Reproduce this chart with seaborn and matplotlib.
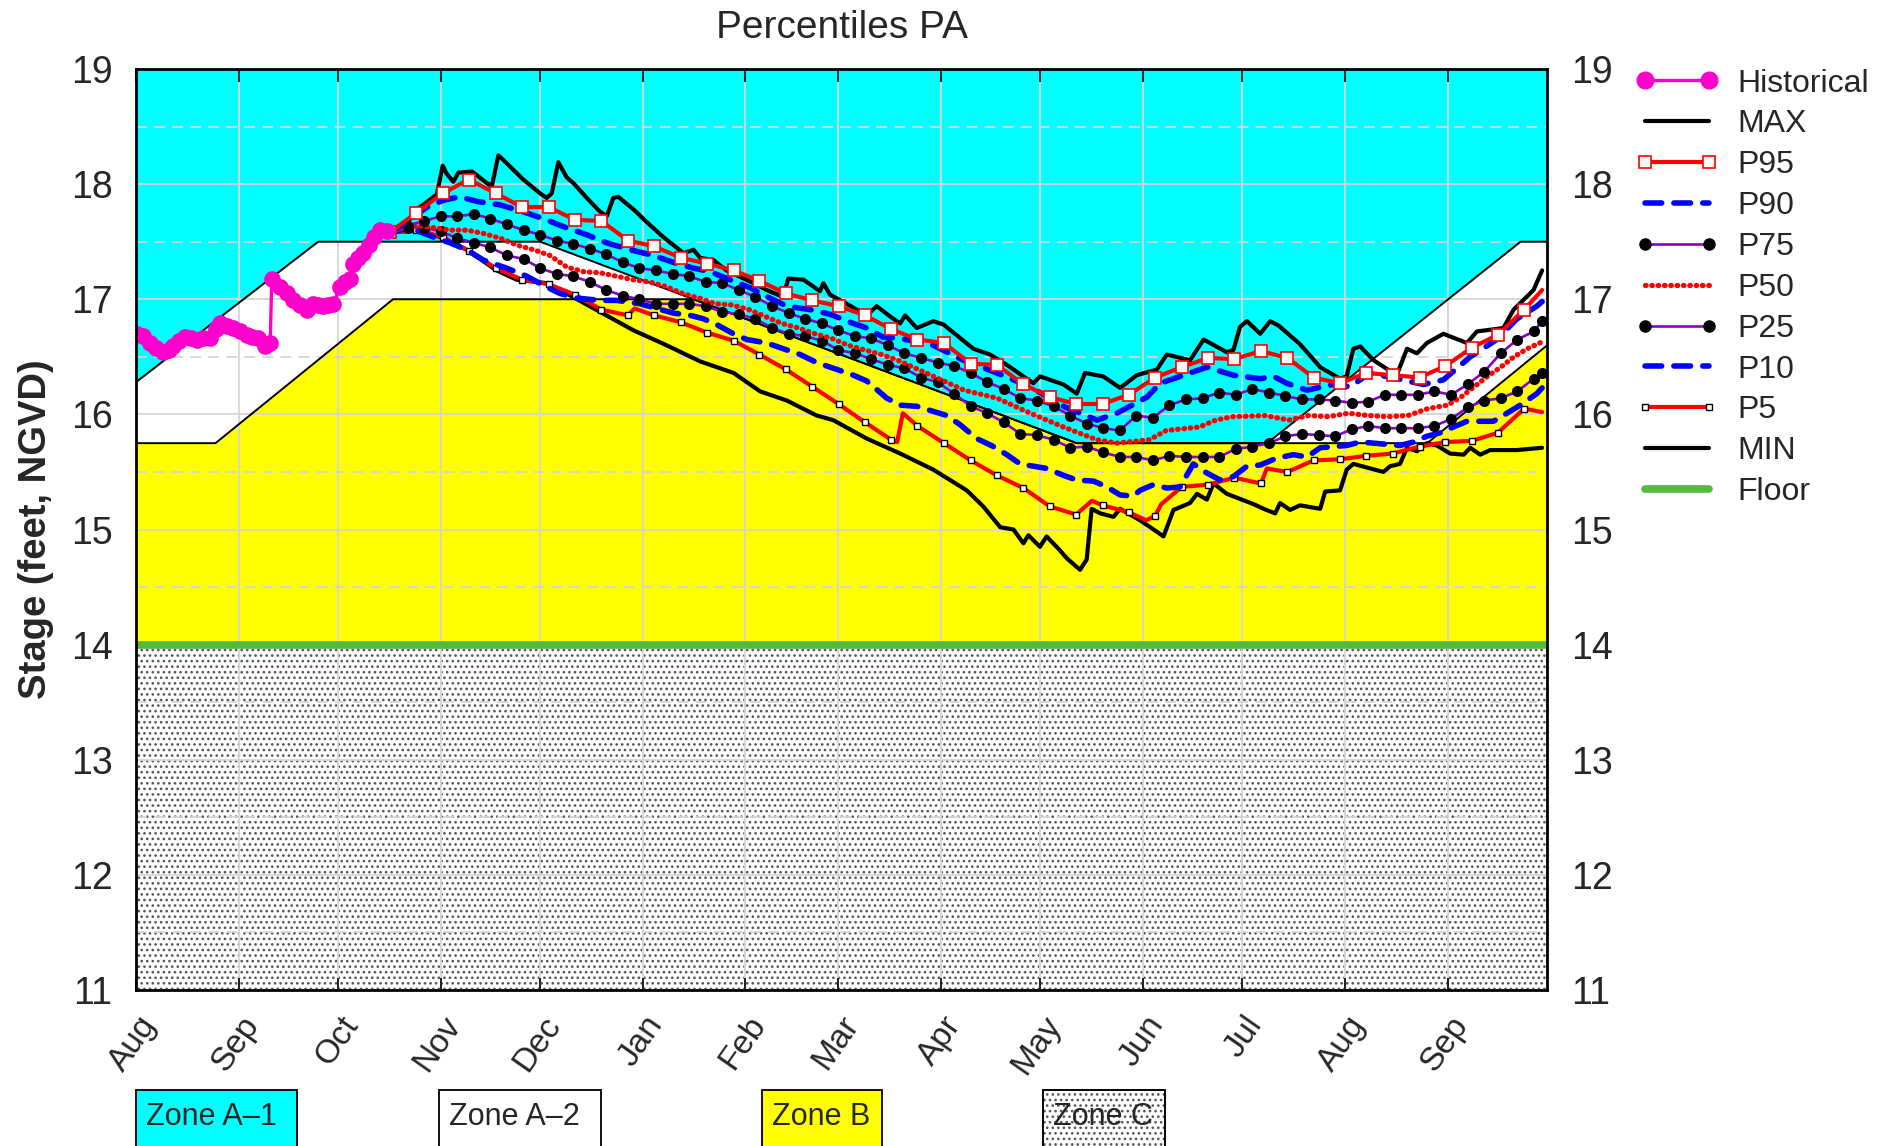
import numpy as np
import pandas as pd
import matplotlib
matplotlib.use("Agg")
import matplotlib.pyplot as plt
import seaborn as sns
from matplotlib.ticker import MultipleLocator, FixedLocator
from matplotlib.patches import Rectangle
from matplotlib.lines import Line2D
import matplotlib.transforms as mtransforms

sns.set_style("white")
plt.rcParams['font.family'] = ['Liberation Sans', 'DejaVu Sans']
plt.rcParams['hatch.linewidth'] = 1.1

# ---- x axis: days counted from 1 Aug, 14 months shown ----
month_labels = ['Aug', 'Sep', 'Oct', 'Nov', 'Dec', 'Jan', 'Feb', 'Mar',
                'Apr', 'May', 'Jun', 'Jul', 'Aug', 'Sep']
month_starts = pd.date_range("2022-08-01", periods=14, freq="MS")
month_days = (month_starts - month_starts[0]).days.values
x_end = 426

# ---- regulation schedule (zone boundaries) ----
upper_days = [0, 55, 122, 284, 341.5, 418, 426]
upper_vals = [16.28, 17.5, 17.5, 15.75, 15.75, 17.5, 17.5]
lower_days = [0, 24, 77.6, 168.3, 284, 389.8, 426]
lower_vals = [15.75, 15.75, 17.0, 17.0, 15.75, 15.75, 16.6]
floor_days = [0, 426]
floor_vals = [14.0, 14.0]

# ---- historical stage ----
hist_days = [0.2, 2, 4.2, 6, 8.2, 10, 11.3, 13, 14.8, 16.5,
             18.3, 20.3, 22.3, 24, 25.4, 27.4, 29.4, 31.4, 33.4, 35,
             36.9, 39, 40.5, 41, 43.5, 45.5, 47.5, 49.5, 51.5, 53.5,
             55, 56.6, 58, 59.6, 61.6, 63, 64.6, 65.6, 67, 68.6,
             70.2, 71.7, 73.7, 75.7]
hist_vals = [16.70, 16.68, 16.62, 16.58, 16.54, 16.56, 16.59, 16.64, 16.67, 16.66,
             16.65, 16.66, 16.66, 16.74, 16.79, 16.77, 16.75, 16.72, 16.69, 16.67,
             16.66, 16.59, 16.62, 17.18, 17.11, 17.05, 16.99, 16.95, 16.91, 16.96,
             16.95, 16.94, 16.95, 16.96, 17.11, 17.15, 17.18, 17.31, 17.36, 17.40,
             17.47, 17.54, 17.60, 17.59]

# ---- MAX / MIN ----
max_days = [76.7, 81.7, 85.7, 90.8, 92.6, 93.8, 95.8, 97.3, 101.4, 105.9,
            107.4, 109.4, 110.9, 116.9, 122.0, 124.0, 125.5, 127.5, 130.0, 132.0,
            136.1, 140.1, 142.1, 144.1, 145.6, 150.2, 154.2, 159.2, 165.3, 168.3,
            170.3, 174.3, 178.3, 186.4, 190.4, 195.4, 196.9, 201.5, 204.5, 206.5,
            207.5, 209.5, 214.6, 220.6, 223.6, 227.7, 230.7, 232.2, 235.7, 240.7,
            243.8, 252.8, 257.8, 262.9, 270.9, 272.9, 280.0, 284.0, 286.5, 292.0,
            297.1, 302.1, 308.2, 311.2, 318.2, 322.3, 329.3, 331.3, 333.3, 335.4,
            339.4, 342.4, 345.0, 351.4, 357.5, 363.5, 365.5, 367.5, 369.6, 373.6,
            380.6, 383.7, 386.7, 389.7, 394.7, 401.8, 404.8, 412.8, 415.9, 421.9,
            424.5]
max_vals = [17.58, 17.66, 17.80, 17.91, 18.16, 18.09, 18.02, 18.10, 18.11, 18.01,
            17.98, 18.25, 18.21, 18.04, 17.92, 17.88, 17.92, 18.19, 18.06, 18.01,
            17.88, 17.76, 17.72, 17.88, 17.89, 17.78, 17.67, 17.54, 17.40, 17.43,
            17.36, 17.34, 17.25, 17.14, 17.08, 17.02, 17.18, 17.17, 17.11, 17.07,
            17.14, 17.04, 16.96, 16.86, 16.94, 16.85, 16.79, 16.86, 16.75, 16.81,
            16.78, 16.57, 16.52, 16.43, 16.27, 16.33, 16.26, 16.18, 16.36, 16.33,
            16.23, 16.34, 16.39, 16.52, 16.47, 16.65, 16.54, 16.56, 16.76, 16.81,
            16.70, 16.81, 16.77, 16.61, 16.41, 16.31, 16.33, 16.57, 16.59, 16.47,
            16.34, 16.57, 16.53, 16.62, 16.70, 16.62, 16.72, 16.75, 16.91, 17.08,
            17.25]

min_days = [76.7, 85.7, 91.8, 99.8, 108.9, 114.9, 124.0, 130.0, 140.1, 150.2,
            160.2, 170.3, 180.4, 188.4, 196.5, 205.5, 210.5, 220.6, 230.7, 240.7,
            250.8, 255.8, 260.9, 264.9, 267.9, 269.4, 272.9, 274.9, 278.9, 281.0,
            285.0, 287.0, 288.5, 291.1, 295.1, 297.1, 303.1, 306.2, 310.2, 313.2,
            318.2, 320.3, 323.3, 325.3, 329.3, 337.4, 340.4, 343.9, 345.4, 348.4,
            351.4, 357.5, 359.0, 363.5, 365.5, 367.5, 376.6, 378.6, 381.6, 383.7,
            386.7, 389.7, 392.7, 396.7, 400.8, 402.8, 405.8, 408.8, 416.9, 424.5]
min_vals = [17.58, 17.60, 17.54, 17.43, 17.25, 17.17, 17.14, 17.05, 16.89, 16.73,
            16.60, 16.46, 16.36, 16.20, 16.12, 15.99, 15.95, 15.79, 15.66, 15.52,
            15.34, 15.20, 15.02, 15.00, 14.88, 14.95, 14.85, 14.94, 14.82, 14.75,
            14.65, 14.74, 15.18, 15.14, 15.11, 15.18, 15.08, 15.02, 14.94, 15.17,
            15.23, 15.31, 15.26, 15.40, 15.31, 15.22, 15.18, 15.14, 15.23, 15.17,
            15.21, 15.18, 15.33, 15.34, 15.52, 15.57, 15.50, 15.55, 15.57, 15.71,
            15.68, 15.75, 15.73, 15.66, 15.65, 15.71, 15.65, 15.69, 15.69, 15.71]

# ---- P95 / P5 (square markers every ~8 days) ----
sq_days = [76.7, 84.5, 92.6, 100.5, 108.6, 116.6, 124.6, 132.5, 140.5, 148.5,
           156.4, 164.5, 172.4, 180.4, 188.2, 196.2, 204.2, 212.1, 220.1, 228.0,
           235.9, 243.9, 252.0, 259.9, 267.9, 275.9, 283.8, 291.8, 299.7, 307.7,
           315.7, 323.7, 331.6, 339.6, 347.6, 355.5, 363.5, 371.4, 379.4, 387.5,
           395.3, 403.3, 411.1, 419.1]
p95_vals = [17.58, 17.75, 17.92, 18.04, 17.92, 17.80, 17.80, 17.69, 17.68, 17.51,
            17.46, 17.36, 17.31, 17.25, 17.16, 17.05, 16.99, 16.94, 16.86, 16.74,
            16.65, 16.62, 16.44, 16.43, 16.26, 16.15, 16.09, 16.09, 16.17, 16.32,
            16.41, 16.49, 16.48, 16.55, 16.49, 16.32, 16.27, 16.36, 16.34, 16.32,
            16.42, 16.58, 16.69, 16.91]
p95_end = (424.5, 17.08)

p5_days = [76.7, 84.5, 92.6, 100.5, 108.6, 116.6, 124.6, 132.5, 140.5, 148.5,
           150.5, 156.4, 164.5, 172.4, 180.4, 188.2, 196.2, 204.2, 212.1, 220.1,
           228.0, 229.8, 231.5, 235.9, 243.9, 252.0, 259.9, 267.9, 275.9, 283.8,
           288.6, 291.8, 299.7, 305.0, 307.7, 309.5, 315.7, 323.7, 331.6, 339.6,
           341.4, 347.6, 355.5, 363.5, 371.4, 379.4, 387.5, 395.3, 403.3, 411.1,
           419.1, 424.5]
p5_vals = [17.58, 17.60, 17.54, 17.42, 17.27, 17.17, 17.13, 17.04, 16.91, 16.86,
           16.92, 16.86, 16.80, 16.71, 16.64, 16.52, 16.39, 16.24, 16.09, 15.93,
           15.78, 15.76, 16.01, 15.90, 15.75, 15.60, 15.47, 15.36, 15.20, 15.13,
           15.25, 15.21, 15.15, 15.08, 15.12, 15.22, 15.37, 15.39, 15.45, 15.40,
           15.53, 15.50, 15.60, 15.61, 15.64, 15.66, 15.72, 15.76, 15.77, 15.84,
           16.05, 16.02]

# ---- P90 / P10 ----
p90_days = [76.7, 82.7, 87.8, 92.8, 97.8, 102.9, 109.9, 116.9, 123.0, 130.0,
            136.1, 142.1, 149.2, 156.2, 163.3, 168.3, 173.3, 179.3, 185.4, 191.4,
            196.5, 203.5, 209.5, 215.6, 220.6, 225.6, 230.7, 240.7, 249.8, 259.9,
            269.9, 280.0, 290.1, 296.1, 305.2, 309.2, 319.2, 323.3, 331.3, 339.4,
            343.4, 347.4, 353.5, 361.5, 366.5, 372.6, 380.6, 388.7, 394.7, 402.8,
            410.8, 416.9, 422.9, 424.5]
p90_vals = [17.58, 17.69, 17.80, 17.86, 17.89, 17.85, 17.82, 17.76, 17.70, 17.62,
            17.56, 17.49, 17.43, 17.38, 17.31, 17.27, 17.24, 17.17, 17.10, 17.01,
            16.94, 16.91, 16.87, 16.80, 16.75, 16.67, 16.66, 16.60, 16.47, 16.36,
            16.24, 16.07, 15.95, 16.01, 16.15, 16.27, 16.37, 16.41, 16.34, 16.31,
            16.33, 16.27, 16.21, 16.26, 16.24, 16.36, 16.31, 16.26, 16.30, 16.50,
            16.65, 16.83, 16.94, 16.98]

p10_days = [76.7, 82.7, 89.8, 94.8, 99.8, 104.9, 111.9, 118.0, 123.0, 128.0,
            133.1, 140.1, 145.1, 152.2, 157.2, 162.2, 167.3, 171.3, 175.3, 180.4,
            184.4, 190.4, 195.4, 200.5, 205.5, 211.6, 216.6, 220.6, 226.7, 230.7,
            235.7, 244.8, 248.8, 253.8, 258.9, 262.9, 266.9, 270.9, 275.0, 280.0,
            284.0, 289.1, 293.1, 297.1, 301.1, 303.1, 307.2, 311.2, 315.2, 319.2,
            323.3, 327.3, 331.3, 335.4, 339.4, 344.4, 349.4, 353.5, 357.5, 365.5,
            369.6, 373.6, 381.6, 385.7, 389.7, 393.7, 397.7, 401.8, 409.8, 413.9,
            417.9, 422.9, 424.5]
p10_vals = [17.58, 17.62, 17.54, 17.49, 17.43, 17.34, 17.27, 17.20, 17.12, 17.05,
            17.01, 16.99, 16.99, 16.96, 16.92, 16.88, 16.86, 16.83, 16.78, 16.70,
            16.65, 16.62, 16.57, 16.52, 16.45, 16.39, 16.34, 16.29, 16.14, 16.08,
            16.07, 15.99, 15.91, 15.79, 15.72, 15.65, 15.57, 15.55, 15.53, 15.47,
            15.43, 15.42, 15.37, 15.30, 15.29, 15.34, 15.39, 15.36, 15.37, 15.57,
            15.49, 15.43, 15.46, 15.55, 15.56, 15.62, 15.65, 15.63, 15.71, 15.73,
            15.76, 15.75, 15.73, 15.76, 15.81, 15.84, 15.89, 15.94, 15.94, 16.01,
            16.08, 16.18, 16.23]

# ---- P50 ----
p50_days = [76.7, 80, 85, 90, 95, 100, 105, 110, 115, 120,
            125, 130, 135, 140, 145, 150, 155, 160, 165, 170,
            175, 180, 185, 190, 195, 200, 205, 210, 215, 220,
            225, 230, 240, 250, 260, 270, 280, 290, 296, 306,
            311, 321, 326, 331, 341, 348, 354, 360, 366, 372,
            378, 384, 390, 396, 400, 404, 408, 412, 416, 420,
            424.5]
p50_vals = [17.58, 17.62, 17.64, 17.62, 17.60, 17.60, 17.57, 17.53, 17.47, 17.43,
            17.38, 17.28, 17.24, 17.23, 17.20, 17.17, 17.15, 17.11, 17.05, 17.01,
            16.96, 16.95, 16.91, 16.85, 16.79, 16.75, 16.70, 16.66, 16.60, 16.56,
            16.52, 16.47, 16.34, 16.21, 16.14, 16.01, 15.89, 15.78, 15.75, 15.78,
            15.86, 15.89, 15.95, 15.98, 15.99, 15.95, 15.99, 15.98, 16.01, 15.99,
            15.98, 15.99, 16.05, 16.08, 16.15, 16.24, 16.33, 16.41, 16.50, 16.57,
            16.63]

# ---- P75 / P25 (dot markers every 5 days) ----
dot_days = list(range(77, 423, 5)) + [424.5]
p75_vals = [17.58, 17.64, 17.68, 17.72, 17.72, 17.74, 17.70, 17.65, 17.60, 17.56,
            17.51, 17.48, 17.44, 17.39, 17.32, 17.27, 17.25, 17.22, 17.20, 17.15,
            17.14, 17.08, 17.02, 16.94, 16.88, 16.83, 16.79, 16.73, 16.68, 16.66,
            16.60, 16.53, 16.49, 16.45, 16.42, 16.36, 16.28, 16.22, 16.14, 16.12,
            16.07, 15.99, 15.92, 15.88, 15.86, 15.99, 15.97, 16.08, 16.13, 16.14,
            16.19, 16.17, 16.22, 16.19, 16.16, 16.13, 16.13, 16.12, 16.10, 16.11,
            16.17, 16.17, 16.17, 16.20, 16.17, 16.26, 16.37, 16.53, 16.65, 16.72,
            16.81]
p25_vals = [17.58, 17.62, 17.62, 17.59, 17.53, 17.49, 17.45, 17.38, 17.35, 17.27,
            17.22, 17.20, 17.15, 17.08, 17.03, 17.00, 16.96, 16.96, 16.96, 16.94,
            16.89, 16.87, 16.83, 16.75, 16.70, 16.68, 16.64, 16.56, 16.53, 16.48,
            16.43, 16.40, 16.32, 16.28, 16.18, 16.07, 16.01, 15.93, 15.83, 15.82,
            15.78, 15.71, 15.72, 15.67, 15.63, 15.63, 15.60, 15.64, 15.63, 15.63,
            15.63, 15.70, 15.72, 15.75, 15.81, 15.83, 15.82, 15.81, 15.87, 15.90,
            15.88, 15.88, 15.88, 15.90, 15.96, 16.06, 16.12, 16.14, 16.20, 16.31,
            16.36]

# colours
CYAN, YELLOW = '#00ffff', '#ffff00'
RED, BLUE, PURPLE = '#ff0000', '#0000ff', '#8800cc'
MAGENTA, GREEN = '#ff00cc', '#55b93a'
GRID = '#d6d6d6'
STIPPLE = '#555555'

# line styles shared by plot and legend
DASH = (0, (3.0, 2.2))
DOTS = (0, (0.1, 1.1))

fig = plt.figure(figsize=(18.89, 11.46), dpi=100)
ax = fig.add_axes([0.0720, 0.1361, 0.7470, 0.8037])

# zones
ax.fill_between(upper_days, upper_vals, 19, color=CYAN, lw=0, zorder=0.5)
ax.fill_between(lower_days, 14, lower_vals, color=YELLOW, lw=0, zorder=0.5)
ax.fill_between(floor_days, 11, 14, facecolor='white', edgecolor=STIPPLE,
                hatch='...', lw=0, zorder=0.5)
ax.plot(upper_days, upper_vals, color='black', lw=1.4, zorder=2.6)
ax.plot(lower_days, lower_vals, color='black', lw=1.4, zorder=2.6)

# series
sns.lineplot(x=floor_days, y=floor_vals, ax=ax, color=GREEN, lw=5.5, zorder=3,
             estimator=None)
sns.lineplot(x=max_days, y=max_vals, ax=ax, color='black', lw=3.0, zorder=4,
             estimator=None)
sns.lineplot(x=min_days, y=min_vals, ax=ax, color='black', lw=3.0, zorder=4,
             estimator=None)
p5_marks = [i for i, d in enumerate(p5_days) if d in sq_days]
sns.lineplot(x=p5_days, y=p5_vals, ax=ax, color=RED, lw=3.0, zorder=5,
             estimator=None, marker='s', markersize=4.5, markerfacecolor='white',
             markeredgecolor='black', markeredgewidth=1.0, markevery=p5_marks)
sns.lineplot(x=p10_days, y=p10_vals, ax=ax, color=BLUE, lw=4.0, zorder=5,
             estimator=None, linestyle=DASH, dash_capstyle='round')
sns.lineplot(x=dot_days, y=p25_vals, ax=ax, color=PURPLE, lw=1.9, zorder=5,
             estimator=None, marker='o', markersize=8, markerfacecolor='black',
             markeredgecolor='black', markeredgewidth=0)
sns.lineplot(x=p50_days, y=p50_vals, ax=ax, color=RED, lw=3.8, zorder=5,
             estimator=None, linestyle=DOTS, dash_capstyle='round')
sns.lineplot(x=dot_days, y=p75_vals, ax=ax, color=PURPLE, lw=1.9, zorder=5,
             estimator=None, marker='o', markersize=8, markerfacecolor='black',
             markeredgecolor='black', markeredgewidth=0)
sns.lineplot(x=p90_days, y=p90_vals, ax=ax, color=BLUE, lw=4.0, zorder=5,
             estimator=None, linestyle=DASH, dash_capstyle='round')
p95_days = sq_days + [p95_end[0]]
p95_all = p95_vals + [p95_end[1]]
sns.lineplot(x=p95_days, y=p95_all, ax=ax, color=RED, lw=3.0, zorder=6,
             estimator=None, marker='s', markersize=8.5, markerfacecolor='white',
             markeredgecolor=RED, markeredgewidth=1.2,
             markevery=list(range(len(sq_days))))
sns.lineplot(x=hist_days, y=hist_vals, ax=ax, color=MAGENTA, lw=2.4, zorder=6,
             estimator=None, marker='o', markersize=12, markerfacecolor=MAGENTA,
             markeredgecolor=MAGENTA, markeredgewidth=0)

# axes
ax.set_xlim(0, x_end)
ax.set_ylim(11, 19)
ax.xaxis.set_major_locator(FixedLocator(month_days))
ax.set_xticklabels(month_labels)
ax.yaxis.set_major_locator(MultipleLocator(1))
ax.yaxis.set_minor_locator(MultipleLocator(0.5))
ax.set_axisbelow(False)
ax.grid(which='major', color=GRID, lw=1.3, zorder=2)
ax.grid(which='minor', axis='y', color=GRID, lw=1.3, ls=(0, (6, 4)), zorder=2)
ax.tick_params(axis='x', which='major', direction='in', top=True, bottom=True,
               length=9, width=1.2, color='black', labelsize=24, pad=21)
ax.tick_params(axis='y', which='major', left=True, right=True, labelleft=True,
               labelright=True, length=0, labelsize=27, pad=17)
ax.tick_params(which='minor', length=0)
for lbl in ax.get_xticklabels():
    lbl.set_rotation(55)
    lbl.set_ha('right')
    lbl.set_va('center')
    lbl.set_rotation_mode('anchor')
    lbl.set_transform(lbl.get_transform() +
                      mtransforms.ScaledTranslation(14 / 100, 0, fig.dpi_scale_trans))
for sp in ax.spines.values():
    sp.set_visible(True)
    sp.set_color('black')
    sp.set_linewidth(2.0)
    sp.set_zorder(7)

ax.set_xlabel('')
ax.set_ylabel('Stage (feet, NGVD)', fontsize=27.5, fontweight='bold', labelpad=12)
ax.set_title('Percentiles PA', fontsize=28, pad=22)

# legend
handles = [
    Line2D([], [], color=MAGENTA, lw=2.4, marker='o', markersize=12),
    Line2D([], [], color='black', lw=3.0),
    Line2D([], [], color=RED, lw=3.0, marker='s', markersize=8.5,
           markerfacecolor='white', markeredgecolor=RED, markeredgewidth=1.2),
    Line2D([], [], color=BLUE, lw=4.0, linestyle=DASH, dash_capstyle='round'),
    Line2D([], [], color=PURPLE, lw=1.9, marker='o', markersize=8,
           markerfacecolor='black', markeredgecolor='black'),
    Line2D([], [], color=RED, lw=3.8, linestyle=DOTS, dash_capstyle='round'),
    Line2D([], [], color=PURPLE, lw=1.9, marker='o', markersize=8,
           markerfacecolor='black', markeredgecolor='black'),
    Line2D([], [], color=BLUE, lw=4.0, linestyle=DASH, dash_capstyle='round'),
    Line2D([], [], color=RED, lw=3.0, marker='s', markersize=4.5,
           markerfacecolor='white', markeredgecolor='black', markeredgewidth=1.0),
    Line2D([], [], color='black', lw=3.0),
    Line2D([], [], color=GREEN, lw=5.5),
]
labels = ['Historical', 'MAX', 'P95', 'P90', 'P75', 'P50', 'P25', 'P10', 'P5', 'MIN', 'Floor']
fig.legend(handles, labels, loc='upper left', bbox_to_anchor=(0.8656, 0.9402),
           frameon=False, fontsize=23, handlelength=2.6, handletextpad=0.6,
           labelspacing=0.34, borderpad=0, borderaxespad=0, numpoints=2)

# zone key boxes along the bottom
zone_boxes = [('Zone A\u20131', CYAN, None, 0.0720, 0.0852),
              ('Zone A\u20132', 'white', None, 0.2324, 0.0858),
              ('Zone B', YELLOW, None, 0.4034, 0.0635),
              ('Zone C', 'white', '...', 0.5521, 0.0646)]
for name, fc, hatch, x0, w in zone_boxes:
    rect = Rectangle((x0, -0.01), w, 0.0589, transform=fig.transFigure,
                     facecolor=fc, edgecolor='black', lw=1.3, hatch=hatch)
    if hatch:
        rect.set_edgecolor(STIPPLE)
        fig.patches.append(Rectangle((x0, -0.01), w, 0.0589, transform=fig.transFigure,
                                     facecolor='none', edgecolor='black', lw=1.3))
    fig.patches.insert(0, rect)
    fig.text(x0 + 0.0053, 0.0253, name, fontsize=22, ha='left', va='center')

fig.savefig('out.png', dpi=100)
